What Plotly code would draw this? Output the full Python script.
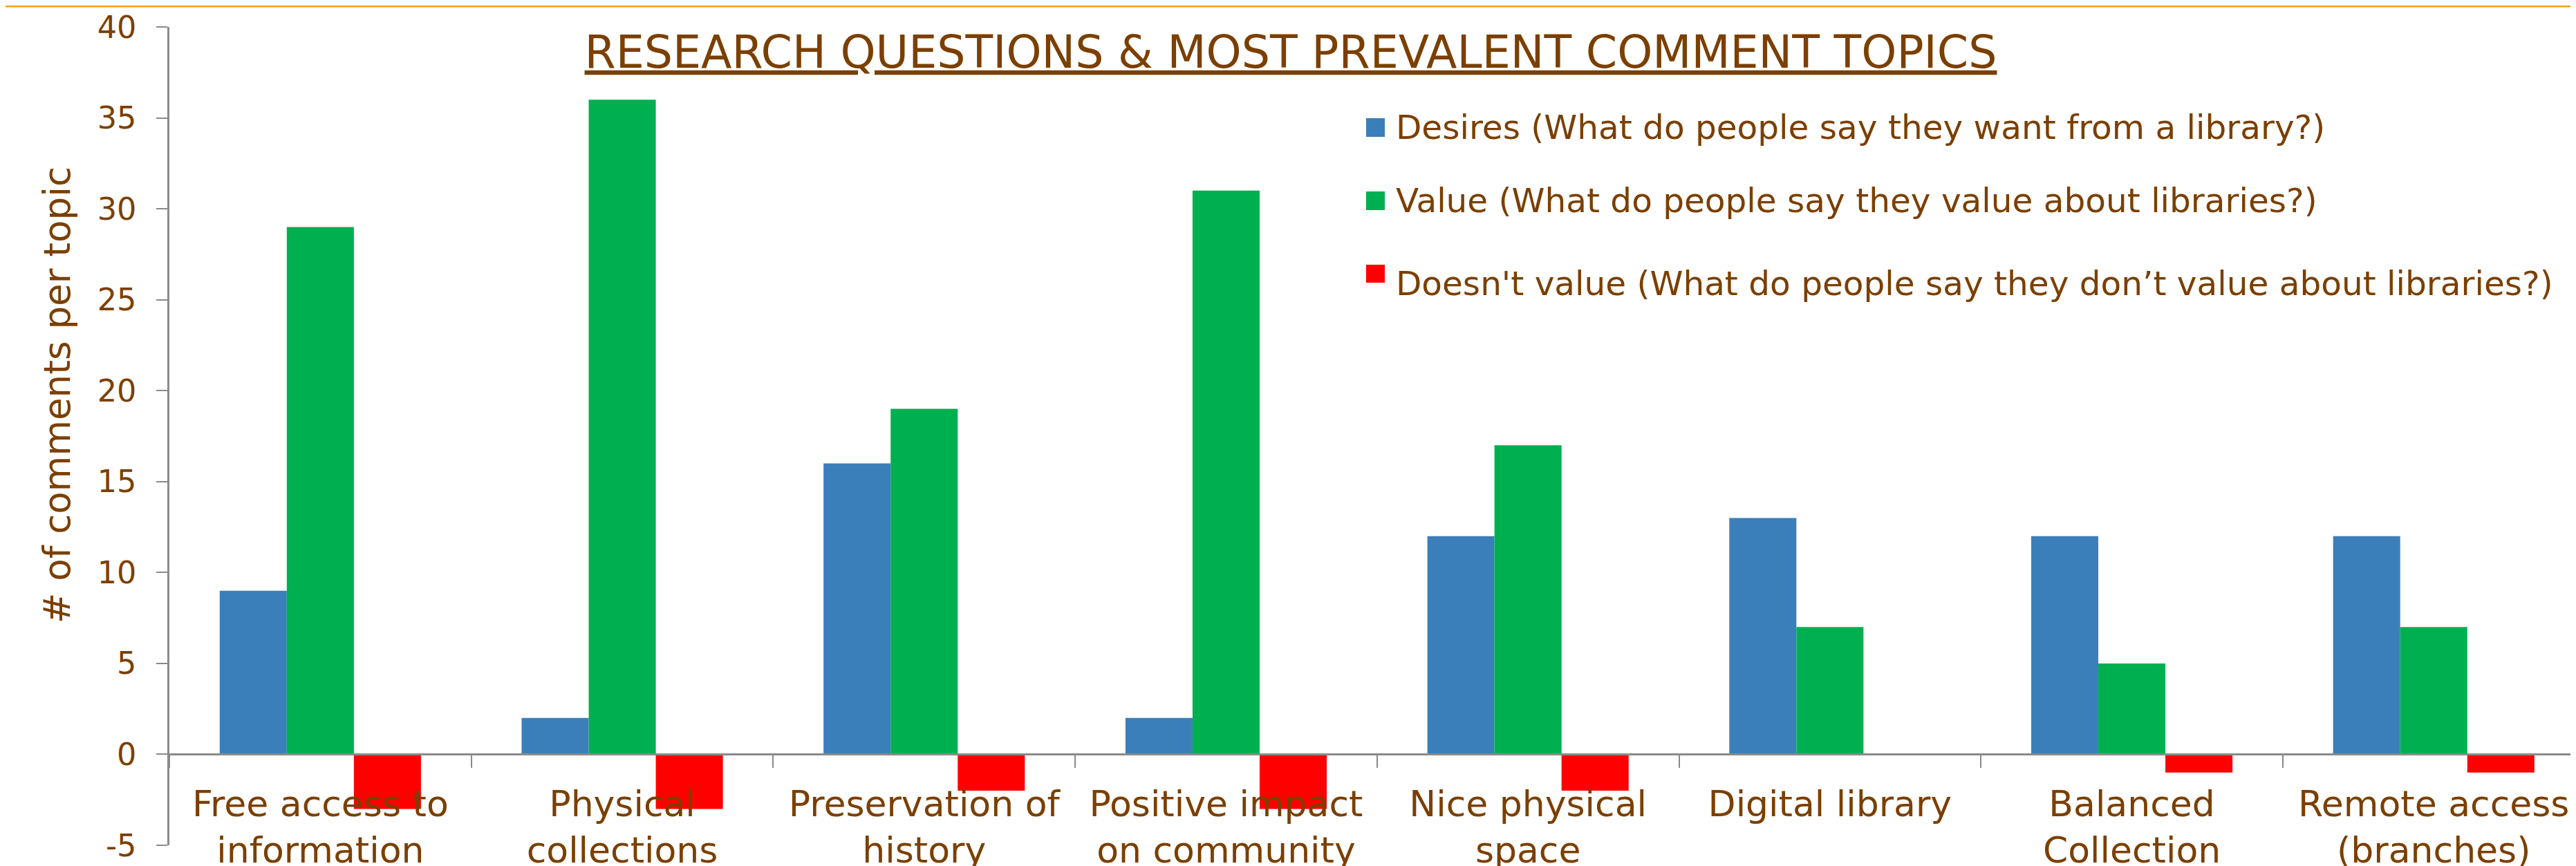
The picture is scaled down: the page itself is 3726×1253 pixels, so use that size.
import plotly.graph_objects as go

# ---------------- data ----------------
categories = [
    "Free access to<br>information",
    "Physical<br>collections",
    "Preservation of<br>history",
    "Positive impact<br>on community",
    "Nice physical<br>space",
    "Digital library",
    "Balanced<br>Collection",
    "Remote access<br>(branches)",
]
series_names = [
    "Desires (What do people say they want from a library?)",
    "Value (What do people say they value about libraries?)",
    "Doesn't value (What do people say they don\u2019t value about libraries?)",
]
desires = [9, 2, 16, 2, 12, 13, 12, 12]
value = [29, 36, 19, 31, 17, 7, 5, 7]
doesnt_value = [-3, -3, -2, -3, -2, 0, -1, -1]
y_tick_values = [-5, 0, 5, 10, 15, 20, 25, 30, 35, 40]
y_tick_labels = ["-5", "0", "5", "10", "15", "20", "25", "30", "35", "40"]
title_text = "RESEARCH QUESTIONS & MOST PREVALENT COMMENT TOPICS"
y_title = "# of comments per topic"

# ---------------- style / layout (page pixels) ----------------
W, H = 3726, 1253
PAGE_OFF = 8                      # default body margin of the html page
PLOT_L, PLOT_R, PLOT_T, PLOT_B = 245, W + PAGE_OFF, 39, 1223
ML = PLOT_L - PAGE_OFF
MT = PLOT_T - PAGE_OFF
MB = H - (PLOT_B - PAGE_OFF)
MR = 0
PW, PH = PLOT_R - PLOT_L, PLOT_B - PLOT_T
CAT_W = 436.7
colors = ["#3B7FBA", "#00B050", "#FF0000"]
brown = "#7B3F00"
axis_gray = "#8A8A8A"
FONT = "DejaVu Sans"


def px_x(px):
    return (px - PLOT_L) / PW


def px_y(py):
    return (PLOT_B - py) / PH


fig = go.Figure()
for name, vals, col in zip(series_names, [desires, value, doesnt_value], colors):
    fig.add_trace(go.Bar(x=categories, y=vals, name=name, marker=dict(color=col, line=dict(width=0)),
                         showlegend=False))

y_min, y_max = y_tick_values[0], y_tick_values[-1]
zero_pos = (0 - y_min) / (y_max - y_min)

# legend drawn as keys + text
legend_key_x = (1976, 2003)
legend_text_x = 2017
legend_key_rows = [(171, 198), (277, 304), (383, 409)]
legend_text_mid = [184, 290, 410]
shapes = []
annotations = []
for name, col, (k0, k1), tm in zip(series_names, colors, legend_key_rows, legend_text_mid):
    shapes.append(dict(type="rect", xref="paper", yref="paper",
                       x0=px_x(legend_key_x[0]), x1=px_x(legend_key_x[1]),
                       y0=px_y(k1), y1=px_y(k0), fillcolor=col, line=dict(width=0)))
    annotations.append(dict(xref="paper", yref="paper", x=px_x(legend_text_x), y=px_y(tm),
                            xanchor="left", yanchor="middle", showarrow=False, text=name,
                            font=dict(family=FONT, size=48.5, color=brown)))

# y-axis title
annotations.append(dict(xref="paper", yref="paper", x=px_x(82), y=px_y(572), textangle=-90,
                        xanchor="center", yanchor="middle", showarrow=False, text=y_title,
                        font=dict(family=FONT, size=53, color=brown)))

# orange rule at top of slide
shapes.append(dict(type="line", xref="paper", yref="paper", x0=px_x(0), x1=1.0,
                   y0=px_y(9), y1=px_y(9), line=dict(color="#F9A01B", width=3)))

fig.update_layout(
    template="none",
    width=W, height=H,
    margin=dict(l=ML, r=MR, t=MT, b=MB, autoexpand=False),
    paper_bgcolor="white", plot_bgcolor="white",
    barmode="group", bargap=1 / 3, bargroupgap=0,
    showlegend=False,
    title=dict(text="<u>" + title_text + "</u>", xref="paper", x=px_x(1867), xanchor="center",
               yref="container", y=1 - (75 - PAGE_OFF) / H, yanchor="middle",
               font=dict(family=FONT, size=65, color=brown)),
    xaxis=dict(type="category", range=[-0.5, -0.5 + PW / CAT_W], anchor="free", position=zero_pos,
               showline=True, linecolor=axis_gray, linewidth=2.5,
               ticks="outside", tickson="boundaries", ticklen=18, tickwidth=1.5, tickcolor=axis_gray,
               ticklabelstandoff=25,
               tickfont=dict(family=FONT, size=52, color=brown), showgrid=False, zeroline=False,
               automargin=False, fixedrange=True),
    yaxis=dict(range=[y_min, y_max], tickvals=y_tick_values, ticktext=y_tick_labels,
               showline=True, linecolor=axis_gray,
               linewidth=2.5, ticks="outside", ticklen=16, tickwidth=1.5, tickcolor=axis_gray,
               ticklabelstandoff=20,
               tickfont=dict(family=FONT, size=44.5, color=brown), showgrid=False, zeroline=False,
               automargin=False, fixedrange=True),
    shapes=shapes,
    annotations=annotations,
)

fig.write_html("out.html")
